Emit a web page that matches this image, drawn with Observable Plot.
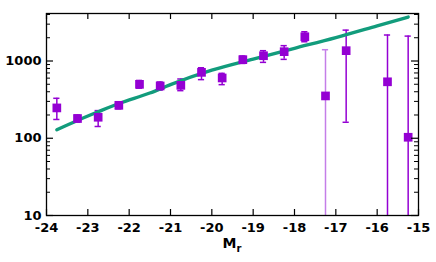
<!DOCTYPE html>
<html><head><meta charset="utf-8">
<script src="https://cdn.jsdelivr.net/npm/d3@7"></script>
<script src="https://cdn.jsdelivr.net/npm/@observablehq/plot@0.6"></script>
<style>body{margin:0;background:#fff;}</style>
</head><body><div id="chart"></div>
<script>
const mag    = [-23.75,-23.25,-22.75,-22.25,-21.75,-21.25,-20.75,-20.25,-19.75,-19.25,-18.75,-18.25,-17.75,-17.25,-16.75,-15.75,-15.25];
const count  = [247,180,187,267,499,475,484,713,603,1040,1170,1320,2060,353,1360,538,103];
const errHi  = [329,200,228,295,560,535,585,818,692,1160,1360,1580,2390,1400,2510,2170,2100];
const errLo  = [175,162,142,240,445,420,413,574,494,930,960,1050,1775,1,161,1,1];
const faint  = [0,0,0,0,0,0,0,0,0,0,0,0,0,1,0,0,0];
const fitMag   = [-23.75,-23.25,-22.75,-22.25,-21.5,-21,-20,-19,-18,-17,-16,-15.25];
const fitCount = [129,170,220,282,385,495,760,1060,1460,2010,2850,3710];
const xTicks = [-24,-23,-22,-21,-20,-19,-18,-17,-16,-15];
const yMajor = [10,100,1000];
const yMinor = [20,30,40,50,60,70,80,90,200,300,400,500,600,700,800,900,2000,3000,4000];

const pts = mag.map((m,i)=>({m, c:count[i], hi:errHi[i], lo:errLo[i], faint:faint[i]}));
const fit = fitMag.map((m,i)=>({m, c:fitCount[i]}));

const W=436, H=262, mL=46, mR=18, mT=13, mB=47;
const ph = H-mT-mB, pw = W-mL-mR;
const purple = "#9400d3", light = "#c47ee8", teal = "#129c7c";

const chart = Plot.plot({
  width: W, height: H,
  marginLeft: mL, marginRight: mR, marginTop: mT, marginBottom: mB,
  style: "font-family:'DejaVu Sans'; font-size:13px; font-weight:bold; background:#fff; color:#000;",
  x: {domain:[-24,-15], ticks: xTicks, tickSize: 0, tickPadding: 7, tickFormat: d => String(d), label: null},
  y: {type:"log", domain:[10,4120], ticks: yMajor, tickSize: 0, tickPadding: 5, tickFormat: d => String(d), label: null},
  marks: [
    Plot.ruleX(pts, {x:"m", y1:"lo", y2:"hi", stroke: d => d.faint ? light : purple, strokeWidth: 1.5, clip: true}),
    Plot.ruleY(pts, {y:"hi", x1: d => d.m - 0.075, x2: d => d.m + 0.075, stroke: d => d.faint ? light : purple, strokeWidth: 1.5}),
    Plot.ruleY(pts.filter(d => d.lo > 10), {y:"lo", x1: d => d.m - 0.075, x2: d => d.m + 0.075, stroke: purple, strokeWidth: 1.5}),
    Plot.line(fit, {x:"m", y:"c", stroke: teal, strokeWidth: 3.4, curve: "monotone-x"}),
    Plot.dot(pts, {x:"m", y:"c", symbol:"square", r: 4.9, fill: purple, stroke: "none"}),
    Plot.tickX(xTicks, {x: d => d, insetTop: ph - 6, stroke: "#000", strokeWidth: 1.2}),
    Plot.tickX(xTicks, {x: d => d, insetBottom: ph - 6, stroke: "#000", strokeWidth: 1.2}),
    Plot.tickY(yMajor, {y: d => d, insetRight: pw - 7, stroke: "#000", strokeWidth: 1.2}),
    Plot.tickY(yMajor, {y: d => d, insetLeft: pw - 7, stroke: "#000", strokeWidth: 1.2}),
    Plot.tickY(yMinor, {y: d => d, insetRight: pw - 4, stroke: "#000", strokeWidth: 1}),
    Plot.tickY(yMinor, {y: d => d, insetLeft: pw - 4, stroke: "#000", strokeWidth: 1}),
    Plot.frame({stroke: "#000", strokeWidth: 1.3})
  ]
});

const svg = d3.select(chart);
const lbl = svg.append("text")
  .attr("x", mL + pw/2)
  .attr("y", 248)
  .attr("text-anchor", "middle")
  .attr("fill", "#000")
  .style("font-size", "14px").style("font-weight", "bold");
lbl.append("tspan").text("M");
lbl.append("tspan").attr("dy", 4).style("font-size", "10px").text("r");

document.getElementById("chart").appendChild(chart);
</script>
</body></html>
